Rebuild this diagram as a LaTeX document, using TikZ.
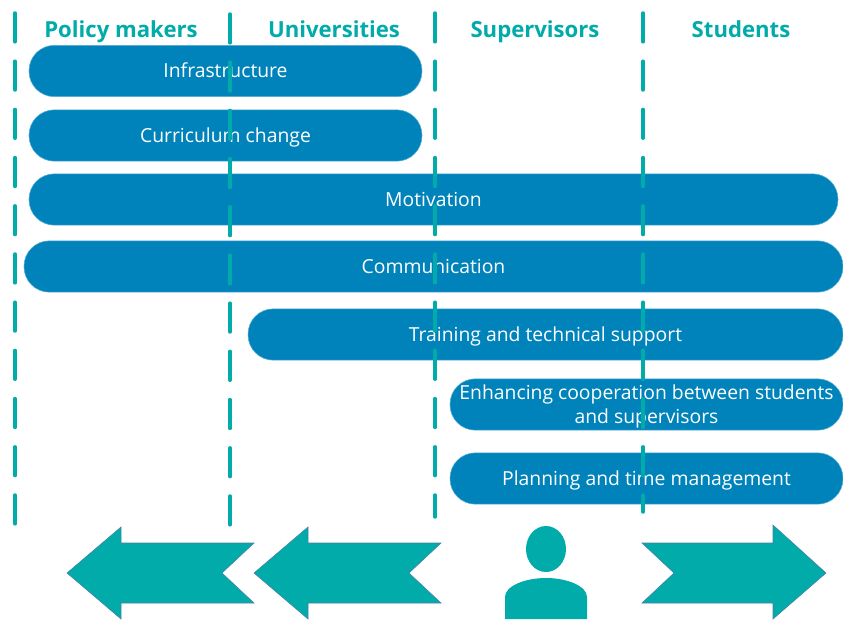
\documentclass[tikz,border=0pt]{standalone}
\usepackage{fontspec}
\setmainfont{Open Sans}
\definecolor{pillblue}{HTML}{0083BB}
\definecolor{pilledge}{HTML}{5AAFD3}
\definecolor{tealfill}{HTML}{00ABA9}
\definecolor{tealedge}{HTML}{4A7FA5}
\begin{document}
\begin{tikzpicture}[
					x=0.75pt, y=-0.75pt,
					pill/.style={rectangle, rounded corners=19pt, fill=pillblue, draw=pilledge, line width=0.4pt, text=white, align=center, inner sep=0pt, minimum height=38.5pt, font=\fontsize{14.5}{18}\selectfont},
					oneline/.style={text height=14pt, text depth=3.6pt},
					head/.style={text=tealfill, inner sep=0pt, anchor=base, font=\fontsize{16.6}{18}\selectfont\bfseries},
					divider/.style={draw=tealfill, line width=2.6pt, line cap=round, dash pattern=on 21.6pt off 14.55pt},
					bigarrow/.style={fill=tealfill, draw=tealedge, line width=0.4pt}
				]
				\useasboundingbox (0,0) rectangle (843,619);
				\node[head] (policy) at (121,37) {Policy makers};
				\node[head] (universities) at (334,37) {Universities};
				\node[head] (supervisors) at (535,37) {Supervisors};
				\node[head] (students) at (741,37) {Students};
				\node[pill, oneline, minimum width=294.75pt] (infrastructure) at (225.5,71) {Infrastructure};
				\node[pill, oneline, minimum width=294.75pt] (curriculum) at (225.5,135.5) {Curriculum change};
				\node[pill, oneline, minimum width=606.75pt] (motivation) at (433.5,199.5) {Motivation};
				\node[pill, oneline, minimum width=614.25pt] (communication) at (433.5,266.5) {Communication};
				\node[pill, oneline, minimum width=446.25pt] (training) at (545.5,334.5) {Training and technical support};
				\node[pill, minimum width=294.75pt] (cooperation) at (646.5,404.5) {\rule{0pt}{14pt}Enhancing cooperation between students\\and supervisors};
				\node[pill, oneline, minimum width=294.75pt] (planning) at (646.5,478.5) {Planning and time management};
				% dashed dividers between the groups
				\coordinate (lineonetop) at (15,13);
				\coordinate (lineonebot) at (15,524);
				\coordinate (linetwotop) at (230,14);
				\coordinate (linetwobot) at (230,525);
				\coordinate (linethreetop) at (435,13);
				\coordinate (linethreebot) at (435,517);
				\coordinate (linefourtop) at (643,13);
				\coordinate (linefourbot) at (643,512);
				\draw[divider] (lineonetop) -- (lineonebot);
				\draw[divider] (linetwotop) -- (linetwobot);
				\draw[divider] (linethreetop) -- (linethreebot);
				\draw[divider] (linefourtop) -- (linefourbot);
				% arrows at the bottom
				\draw[bigarrow] (67,573) -- (121,527) -- (121,543) -- (254,543) -- (222,573) -- (254,603) -- (121,603) -- (121,619) -- cycle;
				\draw[bigarrow] (254,573) -- (308,527) -- (308,543) -- (441,543) -- (409,573) -- (441,603) -- (308,603) -- (308,619) -- cycle;
				\draw[bigarrow] (826,573) -- (773,525) -- (773,543) -- (642,543) -- (674,573) -- (642,603) -- (773,603) -- (773,619) -- cycle;
				% person
				\fill[tealfill] (546,549) ellipse [x radius=20, y radius=23];
				\fill[tealfill] (505,619) -- (505,597) .. controls (505,586) and (525,578) .. (546,578) .. controls (567,578) and (587,586) .. (587,597) -- (587,619) -- cycle;
				\end{tikzpicture}
\end{document}
